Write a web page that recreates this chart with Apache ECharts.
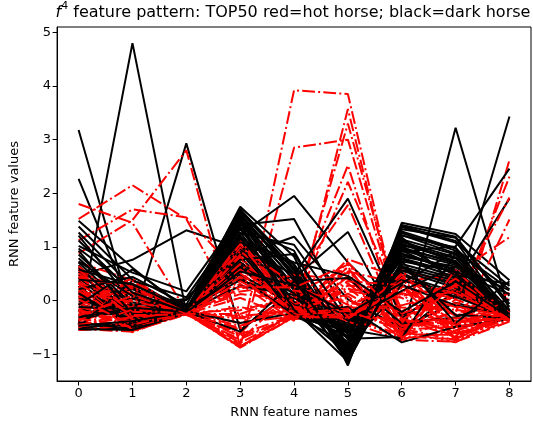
<!DOCTYPE html>
<html>
<head>
<meta charset="utf-8">
<script src="https://cdn.jsdelivr.net/npm/echarts@6/dist/echarts.min.js"></script>
<style>
html,body{margin:0;padding:0;background:#fff;}
#chart{width:533px;height:425px;}
</style>
</head>
<body>
<div id="chart"></div>
<script>
// feature names (x categories)
const featureNames = [0, 1, 2, 3, 4, 5, 6, 7, 8];
const yTicks = [-1, 0, 1, 2, 3, 4, 5];

// black = dark horse
const darkHorses = [
[3.18,-0.32,-0.19,1.21,0.12,-0.62,0.93,0.48,-0.31],
[2.27,-0.18,-0.21,0.88,0.33,-0.47,1.12,0.71,-0.27],
[-0.45,4.80,-0.22,1.52,0.61,-0.83,1.03,0.79,-0.24],
[0.08,-0.41,2.93,-0.55,0.18,-0.92,0.57,0.33,-0.29],
[0.47,0.76,1.31,0.98,-0.21,-0.52,0.82,0.63,-0.18],
[0.31,0.12,-0.16,1.23,1.95,0.71,-0.28,0.22,-0.33],
[-0.02,-0.09,-0.19,1.41,1.52,-0.31,0.41,0.12,-0.26],
[-0.21,0.23,-0.12,0.83,1.19,0.02,-0.51,-0.04,-0.31],
[0.62,-0.27,-0.20,1.02,0.48,1.90,-0.33,0.38,-0.22],
[-0.38,0.03,-0.18,0.57,0.42,1.28,-0.62,0.19,-0.34],
[0.18,-0.22,0.01,1.13,0.27,-0.71,-0.68,3.22,-0.21],
[0.42,-0.29,-0.20,1.33,0.21,-0.94,0.52,0.03,3.43],
[0.97,0.21,-0.17,1.61,0.49,-1.02,0.91,1.01,2.46],
[-0.29,0.04,-0.21,0.72,-0.03,-0.61,1.18,0.31,1.90],
[1.49,0.61,-0.18,1.75,0.82,-1.21,1.45,1.24,0.38],
[1.38,0.39,-0.20,1.69,0.66,-1.16,1.37,1.08,0.27],
[1.27,0.24,-0.19,1.66,0.58,-1.12,1.29,0.97,0.09],
[1.21,-0.03,-0.22,1.58,0.51,-1.07,1.22,0.88,-0.28],
[0.79,-0.12,-0.18,1.53,0.37,-1.03,1.14,0.86,-0.31],
[0.71,-0.21,-0.20,1.47,0.28,-0.97,1.09,0.81,-0.36],
[0.66,-0.33,-0.23,1.44,0.19,-0.88,1.06,0.74,-0.29],
[0.53,-0.36,-0.19,1.39,0.08,-0.86,0.99,0.69,-0.32],
[0.44,-0.43,-0.21,1.27,-0.02,-0.79,0.94,0.66,-0.30],
[0.36,-0.46,-0.20,1.18,-0.11,-0.77,0.88,0.58,-0.33],
[0.27,-0.52,-0.18,1.12,-0.19,-0.69,0.86,0.57,-0.28],
[0.13,-0.44,-0.21,0.97,-0.24,-0.66,0.79,0.52,-0.31],
[0.04,-0.38,-0.20,0.91,-0.29,-0.58,0.77,0.44,-0.27],
[-0.06,-0.34,-0.22,0.82,-0.26,-0.57,0.68,0.41,-0.33],
[-0.17,-0.31,-0.19,0.68,-0.21,-0.49,0.63,0.37,-0.29],
[-0.26,-0.24,-0.20,0.61,-0.14,-0.46,0.61,0.28,-0.31],
[-0.33,-0.19,-0.21,0.49,-0.08,-0.42,0.56,0.24,-0.34],
[-0.44,-0.47,-0.18,0.38,0.04,-0.36,0.47,0.16,-0.30],
[-0.52,-0.41,-0.20,0.27,0.11,-0.28,0.38,0.07,-0.32],
[-0.55,-0.50,-0.17,1.36,0.93,-0.91,0.29,-0.09,-0.25],
[-0.49,0.37,0.06,1.48,0.24,-1.14,0.73,0.54,0.12],
[1.02,0.52,0.17,1.57,-0.16,-0.99,1.26,0.93,0.21],
[0.86,-0.08,0.03,1.09,0.68,-0.73,1.33,1.17,-0.12],
[0.58,0.29,-0.11,0.76,0.87,-0.64,1.02,0.47,0.31],
[-0.41,-0.53,-0.20,-0.42,-0.23,-0.12,-0.78,-0.49,-0.35],
[-0.12,-0.16,-0.21,-0.58,0.36,0.42,-0.43,-0.31,0.02],
[0.21,0.44,-0.08,1.71,0.56,-1.18,1.41,1.19,-0.06],
[-0.53,-0.55,-0.24,1.04,-0.31,-0.54,-0.71,0.88,-0.29],
[0.73,0.08,-0.20,0.63,0.14,-1.09,0.66,-0.27,-0.33],
[0.93,-0.26,-0.21,1.25,1.04,-0.38,0.18,0.64,0.19],
[-0.08,0.58,-0.14,0.43,-0.27,-0.81,0.96,0.73,-0.26],
[0.14,-0.48,-0.19,1.62,0.44,-1.05,1.39,1.11,-0.30],
[-0.31,-0.14,-0.20,1.15,0.71,0.46,-0.21,0.35,-0.31],
[0.39,0.31,-0.18,1.37,-0.17,-1.13,0.74,-0.42,0.36],
[-0.47,-0.38,-0.22,0.54,0.29,-0.24,0.32,0.92,-0.18],
[1.12,0.15,-0.21,1.49,0.39,-1.01,1.21,0.99,-0.33]
];

// red = hot horse
const hotHorses = [
[0.22,-0.28,-0.21,-0.82,3.92,3.85,-0.45,-0.41,-0.31],
[0.48,-0.35,-0.24,-0.86,2.85,3.00,-0.38,-0.52,-0.27],
[-0.18,-0.47,-0.23,0.31,-0.38,3.57,-0.51,-0.33,-0.35],
[0.09,-0.22,-0.25,0.62,-0.21,3.30,-0.29,-0.61,-0.30],
[-0.36,0.18,-0.22,0.12,0.02,2.52,-0.62,0.11,-0.32],
[0.61,-0.51,-0.24,-0.47,-0.13,2.21,-0.18,-0.44,-0.28],
[-0.44,0.06,-0.26,0.86,0.35,1.78,-0.57,-0.19,-0.36],
[1.80,1.45,-0.20,0.54,-0.33,0.21,0.12,-0.63,-0.31],
[1.52,2.15,1.52,-0.31,-0.26,-0.14,0.43,-0.71,-0.24],
[1.12,1.70,1.55,0.47,-0.29,0.56,-0.42,0.28,-0.33],
[0.88,1.50,2.80,-0.85,-0.31,-0.27,-0.66,-0.37,-0.30],
[0.71,0.38,-0.22,1.08,0.22,-0.35,0.58,-0.76,2.62],
[-0.27,-0.56,-0.24,0.73,-0.17,0.32,-0.48,-0.22,2.31],
[0.33,-0.14,-0.21,-0.61,0.41,-0.08,0.27,0.03,1.92],
[-0.51,0.27,-0.23,0.95,-0.35,0.63,-0.71,-0.58,1.51],
[0.16,-0.39,-0.25,-0.25,0.09,-0.22,0.34,0.51,1.18],
[-0.53,-0.58,-0.22,-0.88,-0.31,0.46,-0.73,-0.77,-0.39],
[-0.41,-0.44,-0.26,-0.72,-0.28,-0.37,0.52,0.38,-0.22],
[0.55,0.12,-0.24,1.02,-0.24,0.71,-0.35,-0.68,-0.34],
[0.39,-0.59,-0.21,0.41,-0.34,-0.29,0.19,-0.12,-0.28],
[-0.13,-0.25,-0.27,-0.54,0.16,0.08,-0.61,0.44,-0.36],
[0.04,0.41,-0.23,0.88,-0.12,-0.41,0.46,-0.53,-0.31],
[-0.31,-0.33,-0.25,0.22,0.48,0.39,-0.24,0.07,-0.25],
[0.27,-0.49,-0.22,-0.79,-0.27,-0.18,-0.52,-0.74,-0.37],
[-0.22,0.02,-0.24,0.64,-0.19,0.54,0.31,-0.29,0.14],
[0.64,-0.17,-0.26,-0.33,-0.33,-0.33,-0.69,0.22,-0.33],
[-0.48,-0.53,-0.21,1.11,-0.07,0.17,0.05,-0.46,-0.29],
[0.12,0.23,-0.23,0.17,0.29,-0.26,-0.37,0.33,-0.35],
[-0.05,-0.42,-0.25,-0.86,-0.22,0.77,0.41,-0.71,-0.26],
[0.45,-0.29,-0.24,0.79,-0.35,-0.05,-0.13,-0.17,-0.32],
[-0.39,0.31,-0.22,-0.18,0.06,-0.39,-0.74,0.57,-0.38],
[0.19,-0.57,-0.26,0.51,-0.25,0.28,0.22,-0.59,0.07],
[-0.26,-0.12,-0.23,-0.67,-0.31,-0.11,-0.28,-0.05,-0.30],
[0.58,-0.36,-0.21,0.92,0.13,0.61,-0.58,-0.78,-0.27],
[-0.55,-0.46,-0.24,0.36,-0.16,-0.31,0.36,0.14,-0.34],
[0.07,0.15,-0.25,-0.41,-0.29,0.13,-0.45,-0.38,-0.31],
[-0.16,-0.52,-0.22,0.99,0.31,-0.21,0.09,0.26,-0.36],
[0.34,-0.08,-0.27,-0.12,-0.33,0.44,-0.63,-0.64,-0.23],
[-0.45,-0.31,-0.23,0.58,-0.11,-0.36,0.48,-0.26,-0.29],
[0.26,-0.55,-0.24,-0.74,0.19,-0.02,-0.21,0.41,-0.33],
[-0.09,0.36,-0.22,0.83,-0.26,0.24,-0.54,-0.49,-0.35],
[0.51,-0.21,-0.25,0.05,-0.34,-0.28,0.14,-0.11,-0.30],
[-0.34,-0.48,-0.26,-0.51,0.04,0.52,-0.67,-0.72,-0.26],
[0.14,-0.02,-0.21,0.68,-0.23,-0.15,-0.09,0.19,-0.37],
[-0.19,-0.39,-0.24,-0.29,-0.19,0.36,0.29,-0.56,-0.31],
[0.42,0.26,-0.23,0.44,-0.32,-0.24,-0.41,-0.33,-0.28],
[-0.50,-0.17,-0.25,1.05,-0.14,0.05,-0.70,0.02,-0.34],
[0.02,-0.45,-0.22,-0.87,-0.30,-0.32,0.24,-0.41,-0.32],
[-0.28,0.09,-0.24,0.26,0.24,0.67,-0.33,-0.66,-0.29],
[0.31,-0.27,-0.26,-0.63,-0.27,-0.19,-0.55,0.31,-0.36]
];

const FONT = 'DejaVu Sans';
function toPairs(vals){ return vals.map((v,i)=>[featureNames[i], v]); }

const series = [];
const n = Math.max(darkHorses.length, hotHorses.length);
for (let i = 0; i < n; i++) {
  if (i < darkHorses.length) series.push({
    type:'line', data: toPairs(darkHorses[i]), symbol:'none', silent:true,
    lineStyle:{color:'#000000', width:2, type:'solid'}
  });
  if (i < hotHorses.length) series.push({
    type:'line', data: toPairs(hotHorses[i]), symbol:'none', silent:true,
    lineStyle:{color:'#ff0000', width:2, type:[12.8,3.2,2,3.2]}
  });
}

const chart = echarts.init(document.getElementById('chart'), null, {renderer:'canvas'});
chart.setOption({
  animation:false,
  backgroundColor:'#ffffff',
  title:{
    text:'{i|f}{sup|4}{t| feature pattern: TOP50 red=hot horse; black=dark horse}',
    left:293, top:1, textAlign:'center', padding:0,
    textStyle:{
      fontWeight:'normal',
      rich:{
        i:{fontFamily:FONT, fontSize:16, fontStyle:'italic', fontWeight:'normal', color:'#000', verticalAlign:'bottom'},
        sup:{fontFamily:FONT, fontSize:11, fontWeight:'normal', color:'#000', verticalAlign:'top', padding:[0,0,9,0]},
        t:{fontFamily:FONT, fontSize:16, fontWeight:'normal', color:'#000', verticalAlign:'bottom'}
      }
    }
  },
  grid:{left:57, right:2, top:27, bottom:44, show:true, borderColor:'#000', borderWidth:1, containLabel:false},
  xAxis:{
    type:'value', min:-0.4, max:8.4,
    name:'RNN feature names', nameLocation:'middle', nameGap:25,
    nameTextStyle:{fontFamily:FONT, fontSize:13, color:'#000'},
    axisLine:{show:true, onZero:false, lineStyle:{color:'#000', width:1}},
    axisTick:{show:true, length:4.5, lineStyle:{color:'#000'}, customValues:featureNames},
    axisLabel:{fontFamily:FONT, fontSize:13, color:'#000', margin:6, customValues:featureNames},
    splitLine:{show:false}
  },
  yAxis:{
    type:'value', min:-1.5, max:5.1,
    name:'RNN feature values', nameLocation:'middle', nameGap:33,
    nameTextStyle:{fontFamily:FONT, fontSize:13, color:'#000'},
    axisLine:{show:true, onZero:false, lineStyle:{color:'#000', width:1}},
    axisTick:{show:true, length:4.5, lineStyle:{color:'#000'}, customValues:yTicks},
    axisLabel:{fontFamily:FONT, fontSize:13, color:'#000', margin:6, customValues:yTicks,
      formatter:function(v){ return v < 0 ? '\u2212' + Math.abs(v) : String(v); }},
    splitLine:{show:false}
  },
  series: series
});
</script>
</body>
</html>
